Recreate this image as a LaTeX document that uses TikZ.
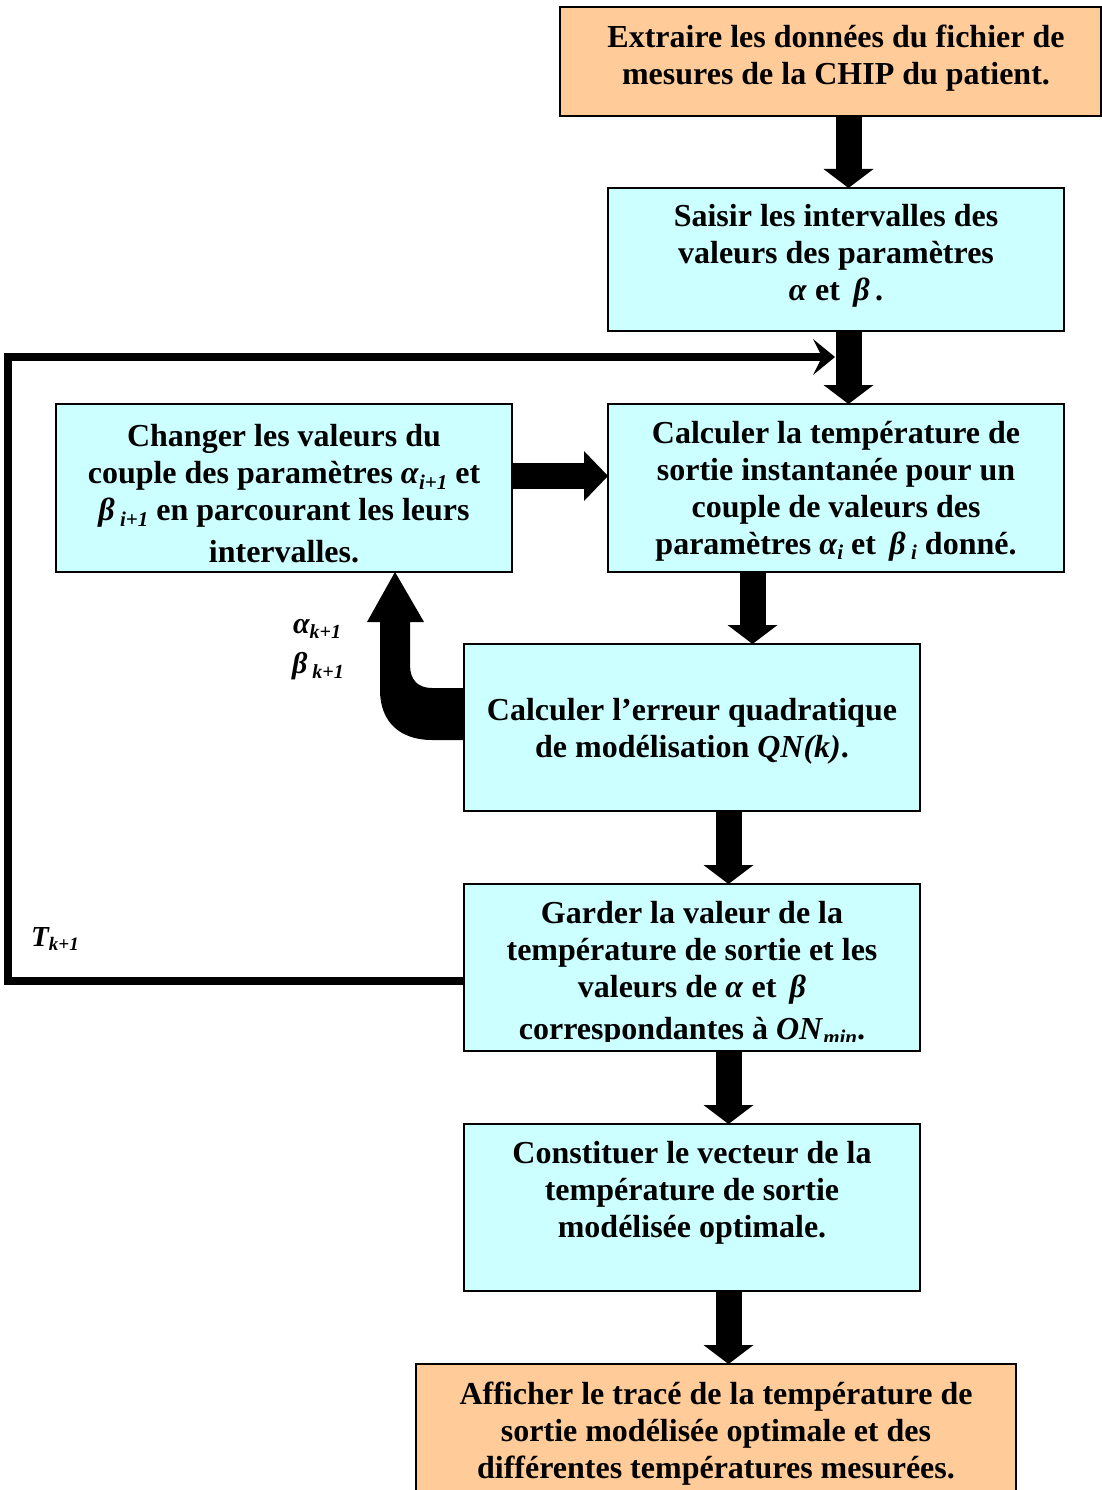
\documentclass[tikz,border=0pt]{standalone}
\usepackage{fontspec}
\setmainfont{Liberation Serif}
\usetikzlibrary{arrows.meta}
\definecolor{boxcyan}{HTML}{CCFFFF}
\definecolor{boxorange}{HTML}{FFCC99}
\newcommand\lowidx[2][21]{\raisebox{-0.35ex}{\fontsize{#1}{#1}\selectfont\textit{#2}}}
\begin{document}
\begin{tikzpicture}[x=1pt,y=-1pt,
  box/.style={draw=black, line width=1.5pt, inner sep=0pt, outer sep=0pt},
  cbox/.style={box, fill=boxcyan},
  obox/.style={box, fill=boxorange},
  txt/.style={font=\fontsize{32}{37}\selectfont\bfseries, align=center, inner sep=0pt},
  lbl/.style={font=\fontsize{30}{32}\selectfont\bfseries\itshape, inner sep=0pt},
  blockarrow/.style={line width=26pt, -{Triangle[width=50pt,length=19pt,line width=0pt]}},
  fbline/.style={line width=8pt, line join=miter, -{Stealth[length=22pt,width=36pt,inset=9pt,line width=0pt]}}
]
\useasboundingbox (0,0) rectangle (1101,1490);

% boxes
\node[obox, minimum width=541pt, minimum height=109pt] (b1) at (830.5,61.5) {};
\node[cbox, minimum width=456pt, minimum height=143pt] (b2) at (836,259.5) {};
\node[cbox, minimum width=456pt, minimum height=168pt] (b3) at (836,488) {};
\node[cbox, minimum width=456pt, minimum height=168pt] (b4) at (284,488) {};
\node[cbox, minimum width=456pt, minimum height=167pt] (b5) at (692,727.5) {};
\node[cbox, minimum width=456pt, minimum height=167pt] (b6) at (692,967.5) {};
\node[cbox, minimum width=456pt, minimum height=167pt] (b7) at (692,1207.5) {};
\node[obox, minimum width=600pt, minimum height=140pt] (b8) at (716,1434) {};

% texts
\node[txt] (t1) at (836,58.5) {Extraire les données du fichier de\\mesures de la CHIP du patient.};
\node[txt] (t2) at (836,256) {Saisir les intervalles des\\valeurs des paramètres\\\textit{α} et \,\textit{β}\,.};
\node[txt] (t3) at (836,491) {Calculer la température de\\sortie instantanée pour un\\couple de valeurs des\\paramètres \textit{α}\lowidx{i} et \,\textit{β}\,\lowidx{i} donné.};
\node[txt] (t4) at (284,494) {Changer les valeurs du\\couple des paramètres \textit{α}\lowidx{i+1} et\\\textit{β}\,\lowidx{i+1} en parcourant les leurs\\[5pt]intervalles.};
\node[txt] (t5) at (692,731) {Calculer l’erreur quadratique\\de modélisation \textit{QN(k)}.};
\begin{scope}
\clip (464,884) rectangle (920,1041);
\node[txt] (t6) at (692,974) {Garder la valeur de la\\température de sortie et les\\valeurs de \textit{α} et \,\textit{β}\\[5pt]correspondantes à \textit{ON}\lowidx{min}.};
\end{scope}
\node[txt] (t7) at (692,1193) {Constituer le vecteur de la\\température de sortie\\modélisée optimale.};
\node[txt] (t8) at (716,1433.5) {Afficher le tracé de la température de\\sortie modélisée optimale et des\\différentes températures mesurées.};

% labels
\node[lbl] (la) at (317,629) {α\lowidx[20]{k+1}};
\node[lbl] (lb) at (318,666) {β\,\lowidx[20]{k+1}};
\node[lbl, font=\fontsize{29}{30}\selectfont\bfseries\itshape] (lt) at (55,939) {T\lowidx[19]{k+1}};

% coordinates for arrows
\coordinate (xa) at (848.5,0);
\coordinate (xb) at (752.5,0);
\coordinate (xc) at (728.5,0);
\coordinate (ya) at (0,476);
\coordinate (yb) at (0,981);
\coordinate (fbend) at (835,357);

% block arrows
\draw[blockarrow] (b1.south -| xa) -- (b2.north -| xa);
\draw[blockarrow] (b2.south -| xa) -- (b3.north -| xa);
\draw[blockarrow] (b3.south -| xb) -- (b5.north -| xb);
\draw[blockarrow] (b5.south -| xc) -- (b6.north -| xc);
\draw[blockarrow] (b6.south -| xc) -- (b7.north -| xc);
\draw[blockarrow] (b7.south -| xc) -- (b8.north -| xc);
\draw[line width=26pt, -{Triangle[width=50pt,length=24pt,line width=0pt]}] (b4.east |- ya) -- (b3.west |- ya);

% feedback loop
\draw[fbline] (b6.west |- yb) -- (8,981) -- (8,357) -- (fbend);

% curved arrow from b5 to b4
\fill[black] (b5.west |- 0,688) -- (432,688) .. controls (418,688) and (410,680) .. (410,665)
  -- (410,622) -- (424,622) -- (395,572) -- (367,622) -- (380,622) -- (380,690)
  .. controls (380,722) and (400,740) .. (432,740) -- (b5.west |- 0,740) -- cycle;
\end{tikzpicture}
\end{document}
